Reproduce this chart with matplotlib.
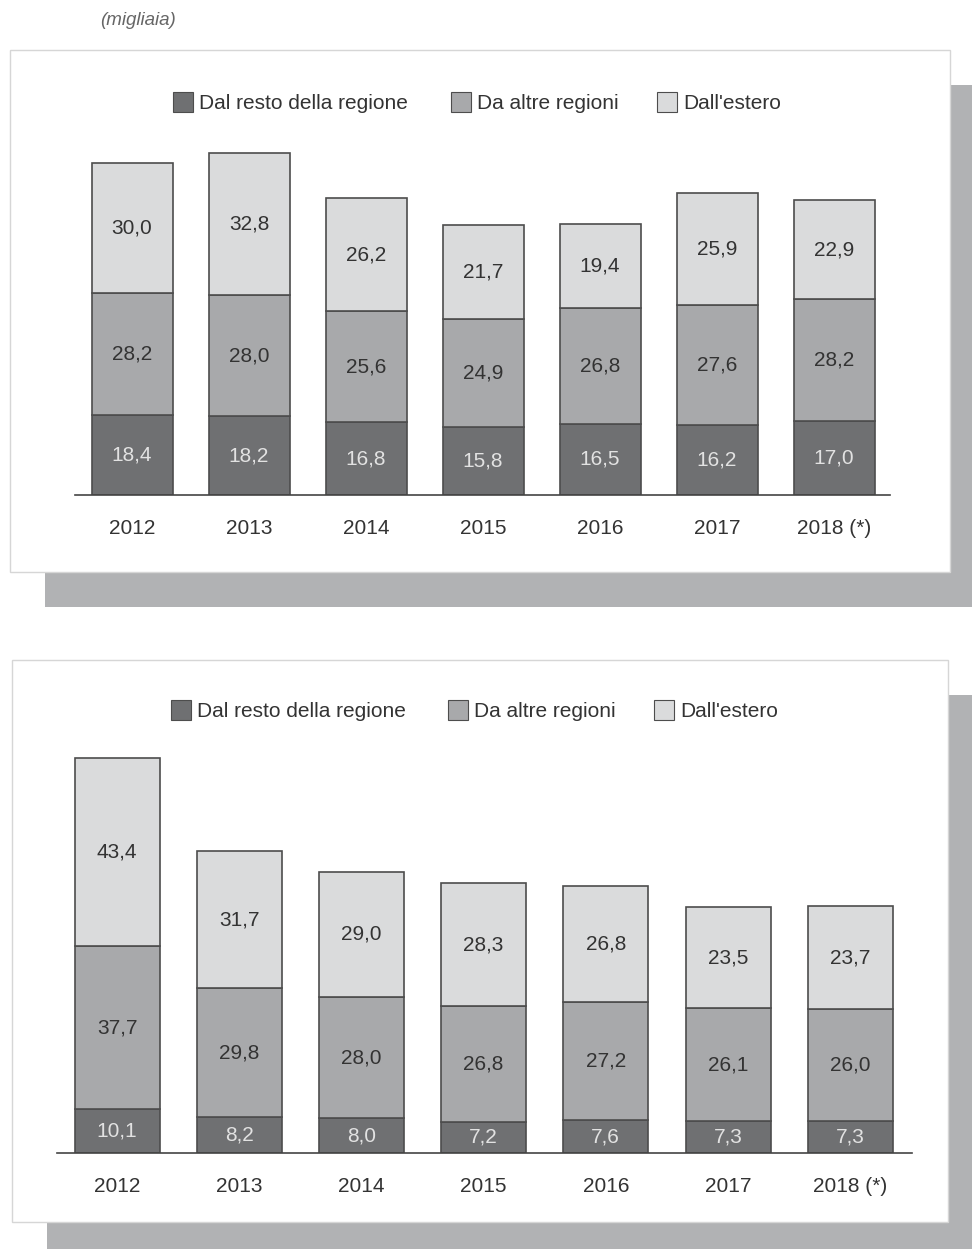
import matplotlib
matplotlib.use('Agg')
import matplotlib.pyplot as plt
from matplotlib.patches import Rectangle

plt.rcParams['font.family'] = ['Liberation Sans', 'DejaVu Sans']

anni = ['2012', '2013', '2014', '2015', '2016', '2017', '2018 (*)']
serie = ['Dal resto della regione', 'Da altre regioni', "Dall'estero"]

# pannello superiore (migliaia)
sup_regione = [18.4, 18.2, 16.8, 15.8, 16.5, 16.2, 17.0]
sup_altre = [28.2, 28.0, 25.6, 24.9, 26.8, 27.6, 28.2]
sup_estero = [30.0, 32.8, 26.2, 21.7, 19.4, 25.9, 22.9]

# pannello inferiore (migliaia)
inf_regione = [10.1, 8.2, 8.0, 7.2, 7.6, 7.3, 7.3]
inf_altre = [37.7, 29.8, 28.0, 26.8, 27.2, 26.1, 26.0]
inf_estero = [43.4, 31.7, 29.0, 28.3, 26.8, 23.5, 23.7]

colori = ['#6f7072', '#a8a9ab', '#dadbdc']
col_testo = ['#e2e2e2', '#333333', '#333333']
bordo = '#4d4d4d'
ombra = '#b1b2b4'

W, H = 972, 1249
fig = plt.figure(figsize=(W / 100, H / 100), dpi=100)

# sfondo in coordinate pixel
bg = fig.add_axes([0, 0, 1, 1], zorder=0)
bg.set_xlim(0, W)
bg.set_ylim(H, 0)
bg.axis('off')

def riquadro(x0, y0, x1, y1):
    bg.add_patch(Rectangle((x0 + 35, y0 + 35), x1 - x0 + 40, y1 - y0, fc=ombra, ec='none'))
    bg.add_patch(Rectangle((x0, y0), x1 - x0, y1 - y0, fc='white', ec='#d6d6d6', lw=1))

riquadro(10, 50, 950, 572)
riquadro(12, 660, 948, 1222)

bg.text(100, 20, '(migliaia)', fontsize=13.5, style='italic', color='#666666', va='center')

def legenda(x0, y, passi):
    for s, c, dx in zip(serie, colori, passi):
        bg.add_patch(Rectangle((x0 + dx, y - 10), 20, 20, fc=c, ec=bordo, lw=0.8))
        bg.text(x0 + dx + 26, y + 1, s, fontsize=15, color='#333333', va='center')

legenda(173, 102, [0, 278, 484])
legenda(171, 710, [0, 277, 483])

def pannello(px_left, px_right, px_base, px_top, centro0, passo, larghezza, dati):
    scala = 4.33
    x_lo = -(centro0 - px_left) / passo
    x_hi = (px_right - centro0) / passo
    ax = fig.add_axes([px_left / W, 1 - px_base / H, (px_right - px_left) / W,
                       (px_base - px_top) / H], zorder=2)
    ax.patch.set_alpha(0)
    ax.set_xlim(x_lo, x_hi)
    ax.set_ylim(0, (px_base - px_top) / scala)
    pos = list(range(len(anni)))
    base = [0.0] * len(anni)
    for valori, c, ct in zip(dati, colori, col_testo):
        ax.bar(pos, valori, bottom=base, width=larghezza / passo, color=c,
               edgecolor=bordo, linewidth=1.2)
        for i, v in enumerate(valori):
            ax.text(i, base[i] + v / 2, f'{v:.1f}'.replace('.', ','), ha='center',
                    va='center', fontsize=15, color=ct)
        base = [b + v for b, v in zip(base, valori)]
    for lato in ['top', 'right', 'left']:
        ax.spines[lato].set_visible(False)
    ax.spines['bottom'].set_color('#444444')
    ax.spines['bottom'].set_linewidth(1.2)
    ax.set_yticks([])
    ax.set_xticks(pos)
    ax.set_xticklabels(anni, fontsize=15, color='#333333')
    ax.tick_params(axis='x', length=0, pad=17)
    return ax

pannello(75, 890, 495, 130, 132, 117, 81, [sup_regione, sup_altre, sup_estero])
pannello(57, 912, 1153, 735, 117, 122.2, 85, [inf_regione, inf_altre, inf_estero])

fig.savefig('out.png', dpi=100)
